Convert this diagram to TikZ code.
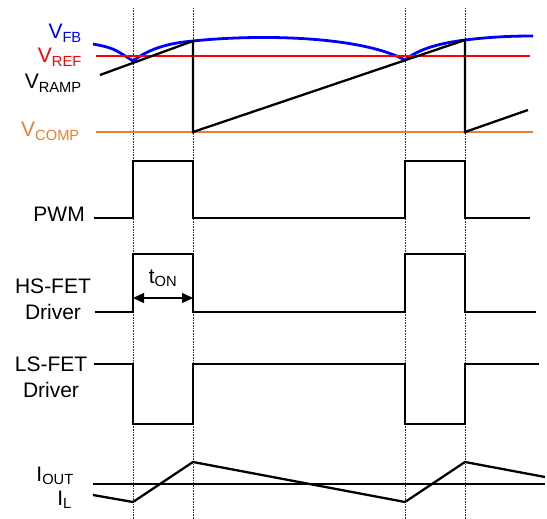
\documentclass[tikz,border=0pt]{standalone}
\usepackage{fontspec}
\setmainfont{Liberation Sans}
\usetikzlibrary{arrows.meta}
\definecolor{fbblue}{RGB}{0,0,255}
\definecolor{refred}{RGB}{255,0,0}
\definecolor{comporange}{RGB}{237,125,49}

\begin{document}
\begin{tikzpicture}[x=1pt,y=-1pt]
  \tikzstyle{every node}=[font=\fontsize{21}{26}\selectfont, inner sep=0pt]
  \tikzstyle{wave}=[line width=2.3pt, line join=miter]
  \tikzstyle{edge}=[densely dotted, line width=0.6pt, black!80]
  \useasboundingbox (0,0) rectangle (547,519);
  % switching instants
  \foreach \x in {133,193,405,465}
    \draw[edge] (\x,8) -- (\x,519);
  % labels
  \node[anchor=base east, text=fbblue] (vfb) at (82,39) {V\textsubscript{FB}};
  \node[anchor=base east, text=refred] (vref) at (82,63) {V\textsubscript{REF}};
  \node[anchor=base east] (vramp) at (82,89) {V\textsubscript{RAMP}};
  \node[anchor=base east, text=comporange] (vcomp) at (80,137) {V\textsubscript{COMP}};
  \node[anchor=base east] (pwm) at (85,222) {PWM};
  \node[align=center] (hs) at (53,299.5) {HS-FET\\Driver};
  \node[align=center] (ls) at (51,377.5) {LS-FET\\Driver};
  \node[anchor=base east] (iout) at (74,481) {I\textsubscript{OUT}};
  \node[anchor=base east] (il) at (72,505) {I\textsubscript{L}};
  % feedback, reference, compensation
  \draw[wave, fbblue, line width=2.8pt] (93,44) .. controls (113,48) .. (133,61)
    .. controls (150,48) and (170,43) .. (193,41)
    .. controls (260,34) and (360,36) .. (405,60)
    .. controls (420,48) and (442,43) .. (465,40)
    .. controls (490,37) and (510,36) .. (533,36);
  \draw[wave, refred] (96,56) -- (530,56);
  \draw[wave, comporange] (96,132) -- (533,132);
  \draw[wave] (100,75) -- (193,41) -- (193,132) -- (465,40) -- (465,132) -- (528,110);
  % PWM and drivers
  \draw[wave] (94,218) -- (133,218) -- (133,161) -- (193,161) -- (193,218)
    -- (405,218) -- (405,161) -- (465,161) -- (465,218) -- (530,218);
  \draw[wave] (95,312) -- (133,312) -- (133,254) -- (193,254) -- (193,312)
    -- (405,312) -- (405,254) -- (465,254) -- (465,312) -- (536,312);
  \draw[wave] (94,364) -- (133,364) -- (133,424) -- (193,424) -- (193,364)
    -- (405,364) -- (405,424) -- (465,424) -- (465,364) -- (539,364);
  % on time
  \coordinate (tonl) at (133,298);
  \coordinate (tonr) at (193,298);
  \draw[{Triangle[length=11pt,width=10pt]}-{Triangle[length=11pt,width=10pt]}, line width=1.3pt] (tonl) -- (tonr);
  \node[anchor=base] (ton) at (163,283) {t\textsubscript{ON}};
  % currents
  \draw[wave] (93,484) -- (545,484);
  \draw[wave] (93,495) -- (133,502) -- (193,462) -- (405,502) -- (465,462) -- (545,477);
\end{tikzpicture}
\end{document}
